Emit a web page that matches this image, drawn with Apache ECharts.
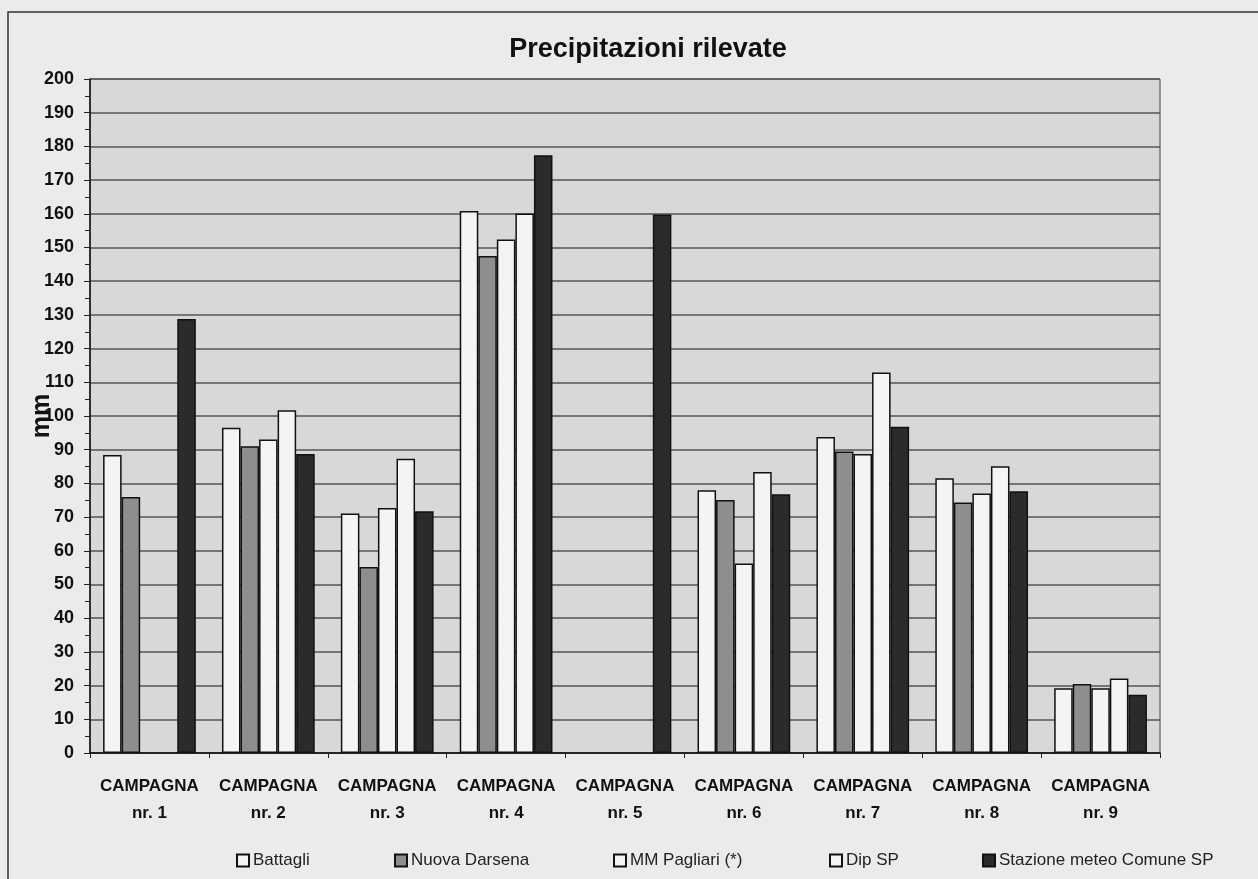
<!DOCTYPE html>
<html><head><meta charset="utf-8">
<script src="https://cdn.jsdelivr.net/npm/echarts@6/dist/echarts.min.js"></script>
<style>html,body{margin:0;padding:0;background:#ebebeb;}#c{width:1258px;height:879px;}</style>
</head><body><div id="c"></div>
<script>
const categories = ['CAMPAGNA\nnr. 1','CAMPAGNA\nnr. 2','CAMPAGNA\nnr. 3','CAMPAGNA\nnr. 4','CAMPAGNA\nnr. 5','CAMPAGNA\nnr. 6','CAMPAGNA\nnr. 7','CAMPAGNA\nnr. 8','CAMPAGNA\nnr. 9'];
const seriesNames = ['Battagli','Nuova Darsena','MM Pagliari (*)','Dip SP','Stazione meteo Comune SP'];
const battagli     = [88.4, 96.5, 71.1, 160.8, null, 78.0, 93.8, 81.5, 19.2];
const nuovaDarsena = [76.0, 91.0, 55.2, 147.5, null, 75.1, 89.5, 74.3, 20.5];
const mmPagliari   = [null, 93.0, 72.7, 152.4, null, 56.2, 88.7, 77.0, 19.2];
const dipSP        = [null, 101.7, 87.3, 160.1, null, 83.4, 112.9, 85.1, 22.1];
const stazione     = [128.8, 88.7, 71.7, 177.4, 159.8, 76.8, 96.8, 77.7, 17.3];
const seriesData = [battagli, nuovaDarsena, mmPagliari, dipSP, stazione];
const colors = ['#f4f4f4','#8e8e8e','#f4f4f4','#f4f4f4','#2b2b2b'];
const legendLeft = [236, 394, 613, 829, 982];

const chart = echarts.init(document.getElementById('c'));
const FONT = '"Liberation Sans", Arial, sans-serif';
chart.setOption({
  backgroundColor: '#ebebeb',
  animation: false,
  title: {
    text: 'Precipitazioni rilevate', left: 643, top: 31, textAlign: 'center',
    textStyle: {fontFamily: FONT, fontSize: 27, fontWeight: 'bold', color: '#111'}
  },
  graphic: [{type: 'rect', shape: {x: 8, y: 12, width: 1262, height: 880}, style: {fill: 'none', stroke: '#333', lineWidth: 1.5}, silent: true}],
  legend: seriesNames.map((n, i) => ({
    data: [n], left: legendLeft[i], top: 852, itemWidth: 12, itemHeight: 12, itemGap: 4,
    icon: 'rect', padding: 0,
    textStyle: {fontFamily: FONT, fontSize: 17, color: '#222', padding: [0,0,0,-1]}
  })),
  grid: {left: 90, right: 98, top: 79, bottom: 126, show: true, backgroundColor: '#d8d8d8', borderColor: '#444', borderWidth: 1},
  xAxis: {
    type: 'category', data: categories,
    axisLine: {lineStyle: {color: '#111', width: 1.5}},
    axisTick: {show: true, length: 5, lineStyle: {color: '#222'}},
    axisLabel: {fontFamily: FONT, fontSize: 17, fontWeight: 'bold', color: '#111', lineHeight: 27, margin: 20, interval: 0}
  },
  yAxis: {
    type: 'value', min: 0, max: 200, interval: 10,
    name: 'mm', nameLocation: 'middle', nameRotate: 90, nameGap: 35, nameMoveOverlap: false,
    nameTextStyle: {fontFamily: FONT, fontSize: 25, fontWeight: 'bold', color: '#111'},
    axisLine: {show: true, lineStyle: {color: '#111', width: 1.5}},
    axisTick: {show: true, length: 6, lineStyle: {color: '#222'}},
    minorTick: {show: true, splitNumber: 2, length: 5, lineStyle: {color: '#222'}},
    axisLabel: {fontFamily: FONT, fontSize: 18, fontWeight: 'bold', color: '#111', margin: 16},
    splitLine: {show: true, lineStyle: {color: '#555', width: 1.5}}
  },
  series: seriesNames.map((n, i) => ({
    name: n, type: 'bar', data: seriesData[i],
    barGap: '0%', barCategoryGap: '22%',
    itemStyle: {color: colors[i], borderColor: '#111', borderWidth: 1.5}
  }))
});
</script></body></html>
